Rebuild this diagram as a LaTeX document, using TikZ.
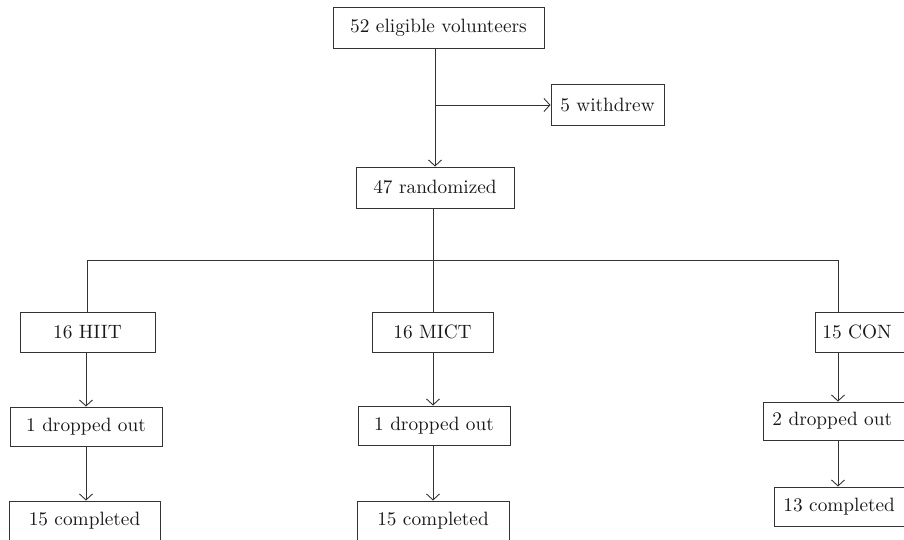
\documentclass[tikz,border=0pt]{standalone}
\usepackage{fontspec}
\setmainfont{lmroman10-regular}[Extension=.otf]
\usetikzlibrary{arrows.meta}
\definecolor{ln}{HTML}{333333}
\begin{document}
\begin{tikzpicture}[x=1pt,y=-1pt,
  box/.style={draw=ln,line width=0.9pt,inner sep=0pt,font=\fontsize{19.3}{23}\selectfont,text=black!90},
  lbox/.style={box,anchor=west,align=left},
  conn/.style={draw=ln,line width=0.9pt},
  arr/.style={conn,-{Straight Barb[length=6pt,width=13pt,line width=0.9pt]}}]
\useasboundingbox (0,0) rectangle (904,539);
\node[box,minimum width=211pt,minimum height=41pt] (top) at (438.5,28) {52 eligible volunteers};
\node[box,minimum width=113pt,minimum height=41pt] (wd) at (607.5,105) {5 withdrew};
\node[box,minimum width=158pt,minimum height=41pt] (rand) at (435,187.5) {47 randomized};
\node[box,minimum width=135pt,minimum height=40pt] (hiit) at (87.5,332) {16 HIIT};
\node[box,minimum width=121pt,minimum height=40pt] (mict) at (432.5,332) {16 MICT};
\node[lbox,minimum height=40pt,inner xsep=7pt,text width=100pt] (con) at (815,332) {15 CON};
\node[box,minimum width=152pt,minimum height=39pt] (hdrop) at (86,426.5) {1 dropped out};
\node[box,minimum width=152pt,minimum height=39pt] (mdrop) at (434,425.5) {1 dropped out};
\node[lbox,minimum height=38pt,inner xsep=9pt,text width=130pt] (cdrop) at (763,421) {2 dropped out};
\node[box,minimum width=151pt,minimum height=40pt] (hcomp) at (84.5,521) {15 completed};
\node[box,minimum width=152pt,minimum height=40pt] (mcomp) at (433,521) {15 completed};
\node[lbox,minimum height=39pt,inner xsep=9pt,text width=120pt] (ccomp) at (774,506.5) {13 completed};
\coordinate (bus) at (433,260);
\coordinate (cx) at (838,260);
% top part
\draw[arr] (top.south -| rand.north) -- (rand.north);
\draw[arr] (rand.north |- wd.west) -- (wd.west);
% split
\draw[conn] (rand.south -| bus) -- (bus);
\draw[conn] (hiit.north) -- (hiit.north |- bus) -- (cx) -- (cx |- con.north);
\draw[conn] (bus) -- (mict.north -| bus);
% columns
\draw[arr] (hdrop.north |- hiit.south) -- (hdrop.north);
\draw[arr] (hdrop.south) -- (hdrop.south |- hcomp.north);
\draw[arr] (mict.south -| bus) -- (mdrop.north -| bus);
\draw[arr] (mdrop.south -| bus) -- (mcomp.north -| bus);
\draw[arr] (cx |- con.south) -- (cx |- cdrop.north);
\draw[arr] (cx |- cdrop.south) -- (cx |- ccomp.north);
\end{tikzpicture}
\end{document}
